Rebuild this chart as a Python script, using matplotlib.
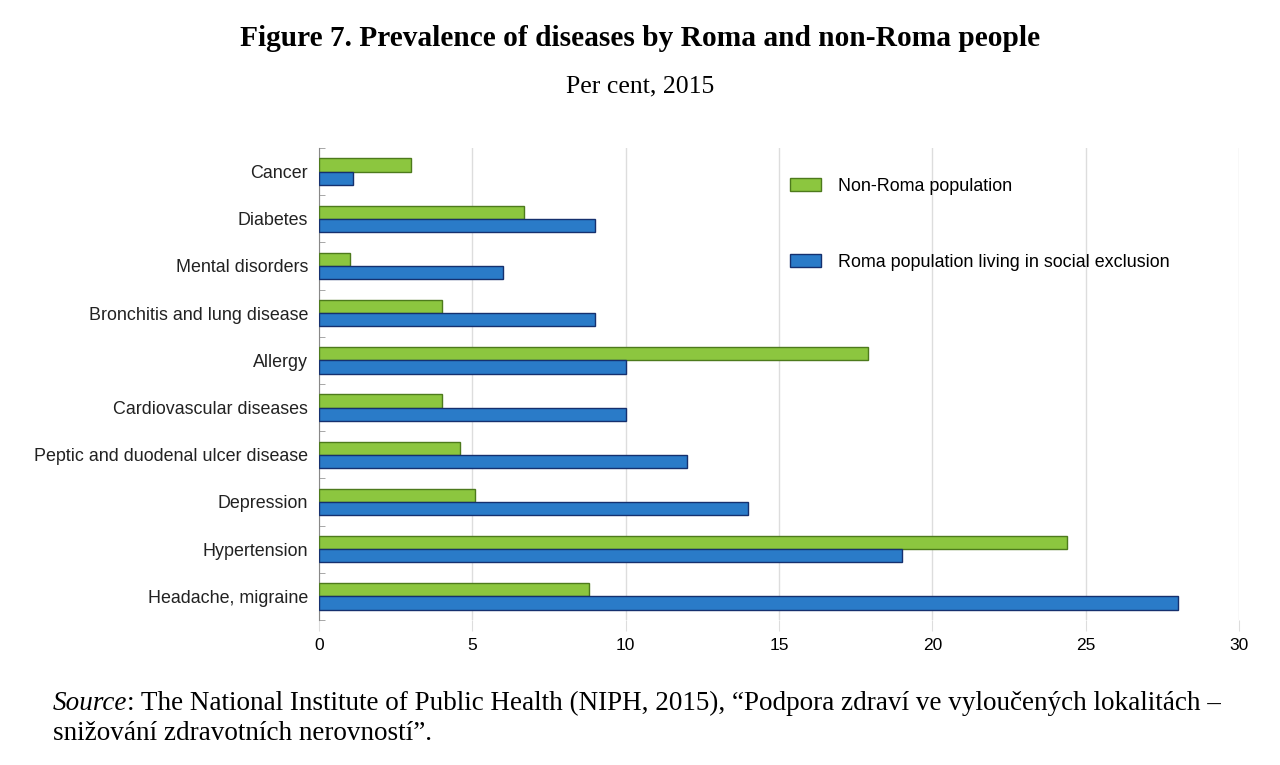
import matplotlib
matplotlib.use('Agg')
import matplotlib.pyplot as plt
import numpy as np

# data (per cent, 2015)
diseases = ['Cancer', 'Diabetes', 'Mental disorders', 'Bronchitis and lung disease',
            'Allergy', 'Cardiovascular diseases', 'Peptic and duodenal ulcer disease',
            'Depression', 'Hypertension', 'Headache, migraine']
non_roma = [3.0, 6.7, 1.0, 4.0, 17.9, 4.0, 4.6, 5.1, 24.4, 8.8]
roma = [1.1, 9.0, 6.0, 9.0, 10.0, 10.0, 12.0, 14.0, 19.0, 28.0]

green = '#8cc63f'
blue = '#2a7bc8'

fig = plt.figure(figsize=(12.8, 7.65), dpi=100)
ax = fig.add_axes([319/1280, 1 - 620/765, 920/1280, 472/765])

y = np.arange(len(diseases))
h = 0.28
ax.barh(y - h/2, non_roma, height=h, color=green, edgecolor='#4d7a1c', linewidth=1,
        label='Non-Roma population', zorder=3)
ax.barh(y + h/2, roma, height=h, color=blue, edgecolor='#15306e', linewidth=1,
        label='Roma population living in social exclusion', zorder=3)

ax.set_ylim(len(diseases) - 0.5, -0.5)
ax.set_xlim(0, 30)
ax.set_yticks(y)
ax.set_yticklabels(diseases, fontsize=12.9, family='Liberation Sans', color='#222222')
ax.set_yticks(np.arange(-0.5, len(diseases), 1), minor=True)
ax.tick_params(axis='y', which='major', length=0, pad=8)
ax.tick_params(axis='y', which='minor', length=4, color='#999999', direction='in')
ax.set_xticks(np.arange(0, 31, 5))
ax.tick_params(axis='x', length=8, color='#dddddd', pad=5, labelsize=12.5)
for t in ax.get_xticklabels():
    t.set_family('Liberation Sans')
ax.grid(axis='x', color='#dddddd', linewidth=1, zorder=0)
for s in ['top', 'right', 'bottom']:
    ax.spines[s].set_visible(False)
ax.spines['left'].set_color('#888888')

leg = ax.legend(loc='upper left', bbox_to_anchor=(0.4945, 0.9715), frameon=False,
                prop={'family': 'Liberation Sans', 'size': 12.9},
                labelspacing=3.3, handlelength=1.7, handleheight=0.8, handletextpad=1.0)

fig.text(0.5, 1 - 38/765, 'Figure 7. Prevalence of diseases by Roma and non-Roma people',
         ha='center', va='center', fontsize=21.2, fontweight='bold', family='Liberation Serif')
fig.text(0.5, 1 - 86/765, 'Per cent, 2015', ha='center', va='center', fontsize=18.5,
         family='Liberation Serif')

src = fig.text(53/1280, 1 - 703/765, 'Source', ha='left', va='center', fontsize=19.5,
               family='Liberation Serif', style='italic')
fig.canvas.draw()
bb = src.get_window_extent()
fig.text(bb.x1/1280, 1 - 703/765,
         ': The National Institute of Public Health (NIPH, 2015), \u201cPodpora zdraví ve vyloučených lokalitách \u2013',
         ha='left', va='center', fontsize=19.5, family='Liberation Serif')
fig.text(53/1280, 1 - 733/765, 'snižování zdravotních nerovností\u201d.', ha='left', va='center',
         fontsize=19.5, family='Liberation Serif')

fig.savefig('out.png', dpi=100)
